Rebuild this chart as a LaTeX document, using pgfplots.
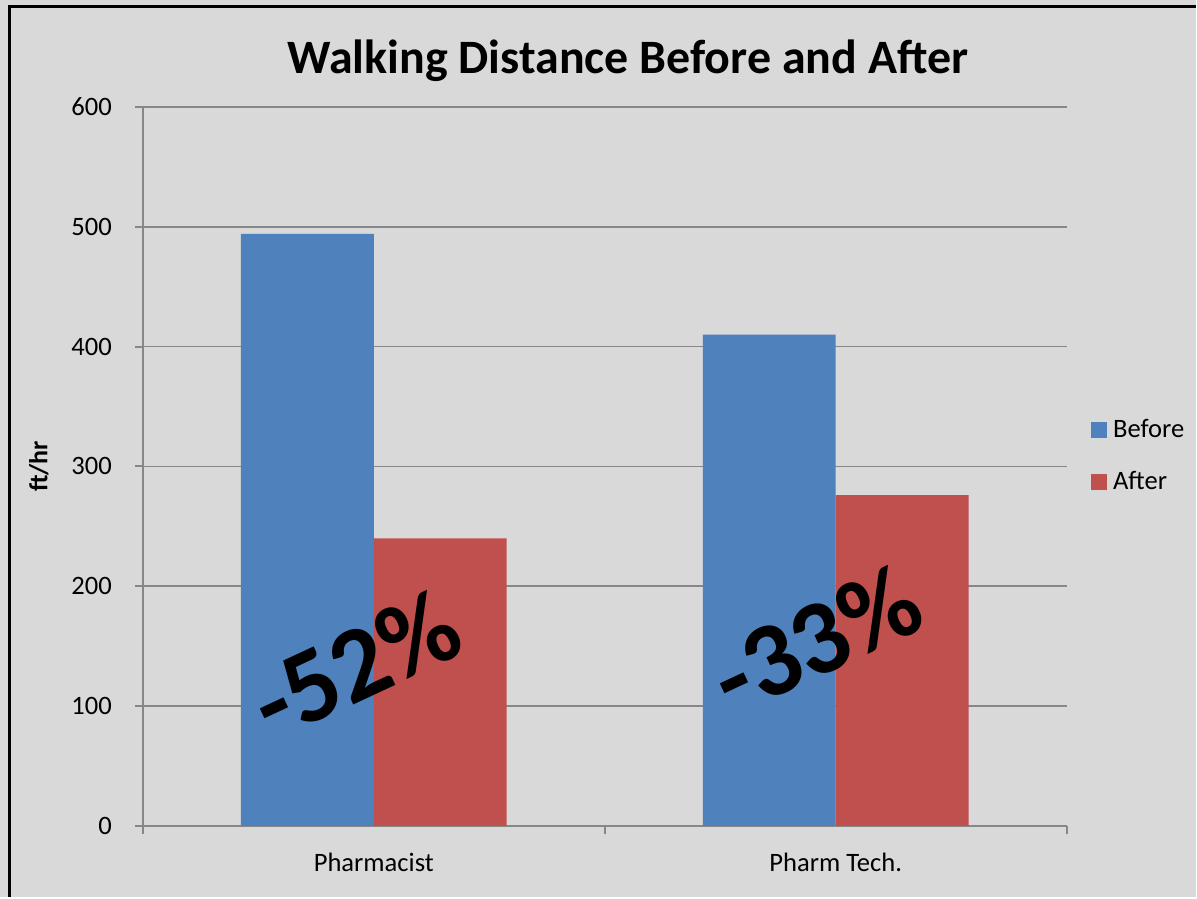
\documentclass[border=0pt]{standalone}
\usepackage{pgfplots}
\pgfplotsset{compat=1.18}
\usepackage{fontspec}
\setmainfont{Carlito}
\definecolor{bg}{HTML}{D9D9D9}
\definecolor{axisgray}{HTML}{878787}
\definecolor{barblue}{HTML}{4F81BD}
\definecolor{barred}{HTML}{C0504D}
\pgfplotsset{sqlegend/.style={legend image code/.code={\fill[##1] (0pt,-4pt) rectangle (8pt,4pt);}}}
\begin{document}
\begin{tikzpicture}
\fill[bg] (0,0) rectangle (598.5pt,449pt);
\draw[line width=1.5pt] (4.75pt,0) -- (4.75pt,445.75pt) -- (598.5pt,445.75pt);
\node[anchor=base, font=\fontsize{24}{28}\selectfont\bfseries] at (314.25pt,412pt) {Walking Distance Before and After};
\node[rotate=90, font=\fontsize{13}{15}\selectfont\bfseries] at (19.5pt,215.5pt) {ft/hr};
\begin{axis}[
  at={(71.5pt,35.5pt)}, anchor=south west,
  scale only axis, width=462.5pt, height=360pt,
  xmin=-0.5, xmax=1.5, ymin=0, ymax=600,
  ytick={0,100,...,600},
  xtick={-0.5,0.5,1.5}, xticklabels={},
  extra x ticks={0,1}, extra x tick labels={Pharmacist,Pharm Tech.},
  extra x tick style={major tick length=0pt},
  axis x line=bottom, axis y line=left,
  axis line style={-, draw=axisgray, line width=1pt},
  tick style={draw=axisgray, line width=1pt},
  major tick length=4pt, tick align=outside,
  ymajorgrids, grid style={draw=axisgray, line width=0.9pt},
  /pgf/number format/assume math mode=true,
  ticklabel style={font=\fontsize{13.3}{15}\selectfont},
  yticklabel style={xshift=-8pt},
  xticklabel style={yshift=-10pt},
  ybar, bar width=66.5pt,
  legend style={at={(1.026,0.515)}, anchor=west, draw=none, fill=none,
    font=\fontsize{13.3}{15}\selectfont, row sep=9.5pt, inner sep=0pt,
    nodes={inner sep=3pt}},
  legend cell align=left,
]
\addplot[fill=barblue, draw=none, bar shift=-33.25pt, sqlegend]
  coordinates {(0,494) (1,410)};
\addlegendentry{Before}
\addplot[fill=barred, draw=none, bar shift=33.25pt, sqlegend]
  coordinates {(0,240) (1,276)};
\addlegendentry{After}
\node[rotate=25, font=\fontsize{53}{53}\selectfont\bfseries] at (axis cs:-0.04,135) {-52\%};
\node[rotate=25, font=\fontsize{53}{53}\selectfont\bfseries] at (axis cs:0.957,156) {-33\%};
\end{axis}
\end{tikzpicture}
\end{document}
